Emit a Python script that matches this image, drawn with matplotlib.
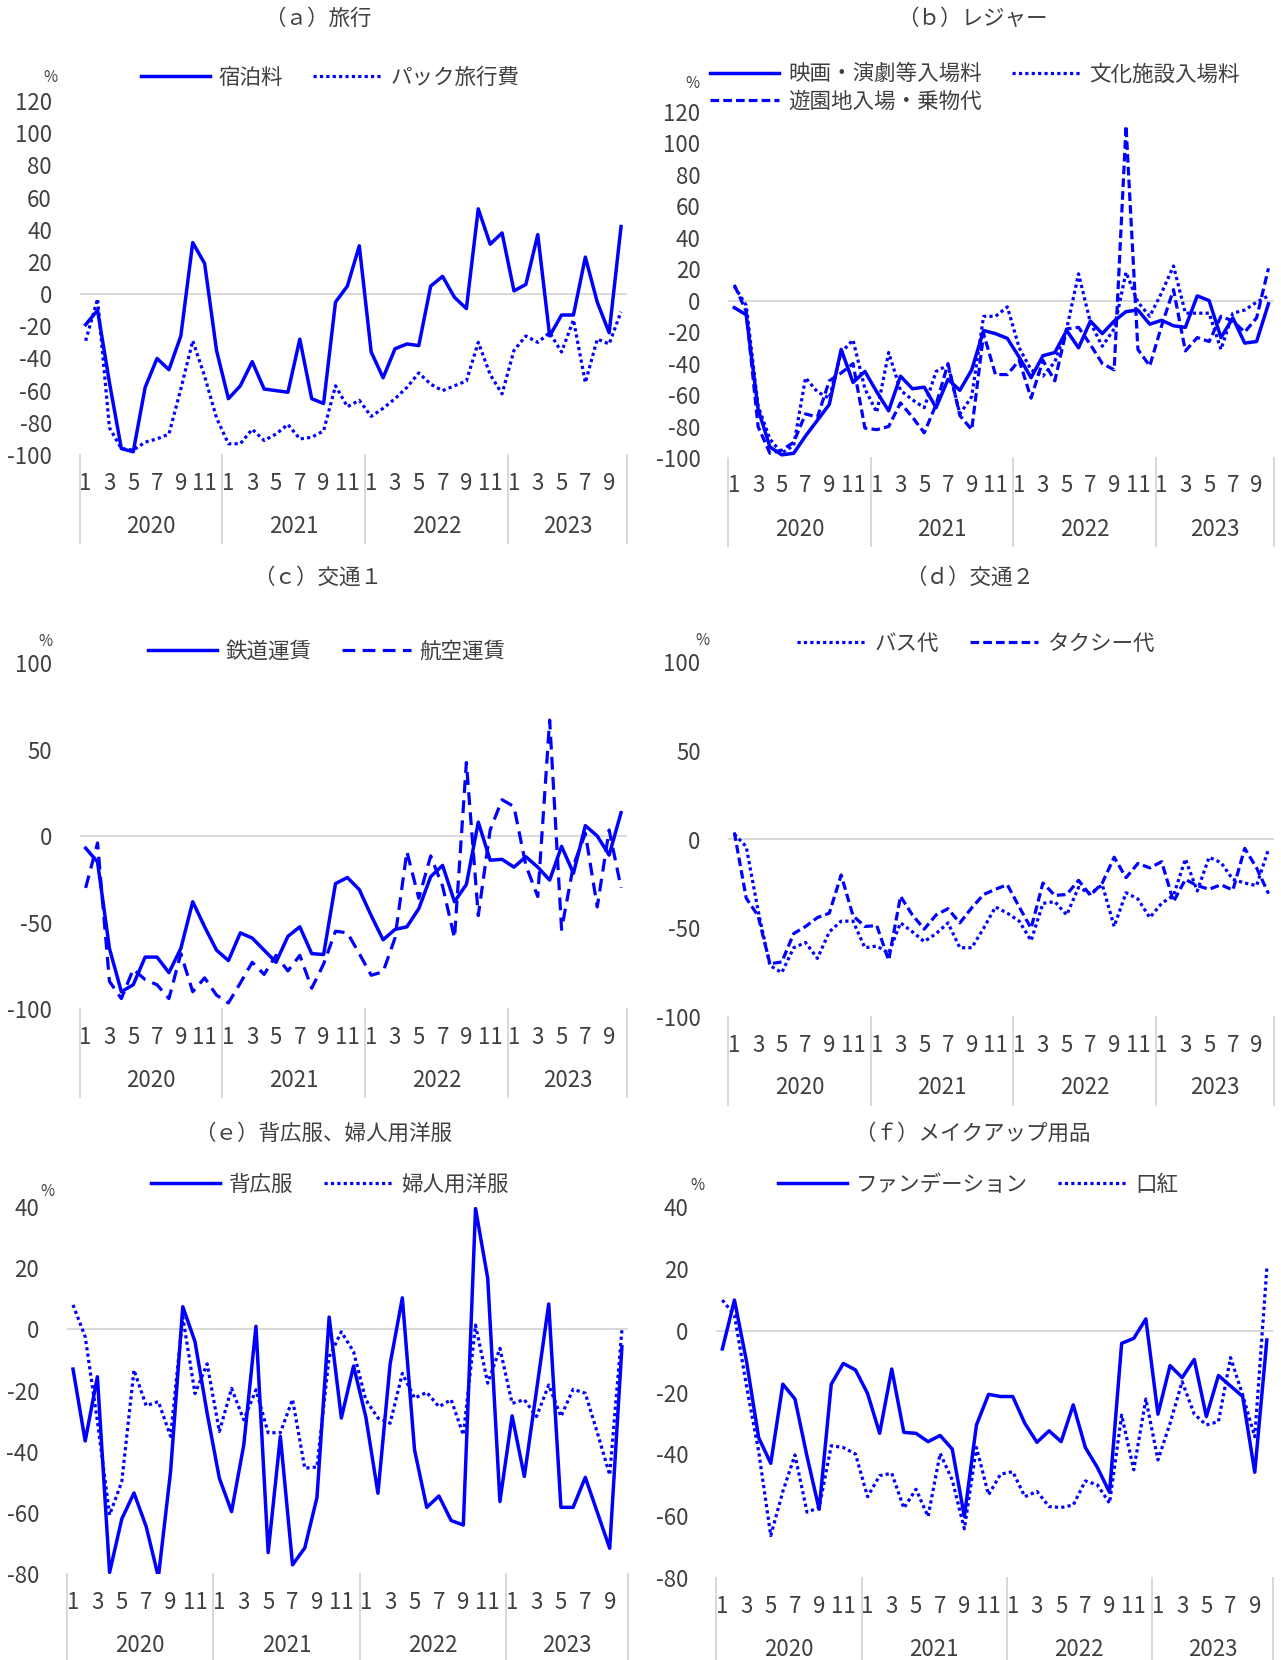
import matplotlib
matplotlib.use("Agg")
import matplotlib.pyplot as plt

plt.rcParams['font.family'] = ['Noto Sans CJK JP', 'DejaVu Sans']
plt.rcParams['axes.unicode_minus'] = False

W, H = 1281, 1660
BLUE = '#0000FF'
GRID = '#D9D9D9'
TEXT = '#404040'

# 2020年1月～2023年10月（前年同月比, %）
years = ['2020', '2021', '2022', '2023']
months = [m for _ in years for m in range(1, 13)][:46]

# （ａ）旅行
shukuhaku = [-19, -10, -55, -96, -98, -58, -40, -47, -26, 32, 19, -35, -65, -57, -42, -59, -60, -61, -28, -65, -68, -5,
             5, 30, -36, -52, -34, -31, -32, 5, 11, -2, -9, 53, 31, 38, 2, 6, 37, -26, -13, -13, 23, -5, -24, 42]
pack = [-29, -3, -83, -96, -97, -92, -90, -87, -59, -29, -51, -77, -93, -93, -84, -91, -87, -81, -90, -89, -85, -57,
        -70, -66, -76, -71, -65, -58, -49, -56, -60, -57, -54, -30, -50, -62, -35, -26, -30, -24, -36, -16, -55, -28, -31, -11]

# （ｂ）レジャー
eiga = [-4.5, -9, -69, -93, -98, -97, -86, -76, -66, -31, -52, -45, -58, -70, -48, -56, -55, -68, -50, -57, -44, -19,
        -21, -24, -36, -49, -35, -33, -19, -30, -13, -21, -13, -7, -6, -15, -12.5, -16, -17, 3, 0, -23.5, -11, -27, -26, -2]
yuenchi = [10, -7, -80, -97, -95, -90, -72, -74, -51, -46, -40, -81, -82, -80, -65, -74, -84, -66, -40, -73, -82, -21,
           -47, -47, -38, -62, -38, -51, -18, -17, -28, -40, -44, 111, -31, -41.5, -16, 7, -32, -23.5, -26, -10, -13, -20, -11, 20.5]
bunka = [9, -3, -67, -88, -97, -92, -49, -58, -62, -33, -25, -56, -71, -33, -57, -63, -68, -45, -41, -72, -61, -10,
         -10, -4, -30, -44, -48, -39, -18, 17, -14, -29, -18, 18, -1, -10, 5, 22, -8, -8, -8, -31, -8, -6, -1, 3]

# （ｃ）交通１
tetsudo = [-7, -15, -65, -90, -86, -70, -70, -79, -65, -38, -52.5, -66, -72, -56, -59, -66, -73, -58, -52.5, -68, -68.5, -27.5,
           -24, -31, -46, -60, -54, -52.5, -42, -23.5, -17, -38, -28, 8, -14, -13.5, -18, -12, -18, -25.5, -6, -21.5, 6, 0, -11, 13.5]
koku = [-30, -4, -84, -94, -77, -83, -86, -94, -68, -90, -82, -92, -96.5, -85, -73, -80, -69, -78, -69, -88, -74, -55,
        -56, -68, -80.5, -78.5, -59, -9, -36, -11.5, -29, -59, 42.5, -46, 3.5, 21, 17, -17, -35, 67, -54, -17, 1.5, -41, 3.5, -30]

# （ｄ）交通２
bus = [3, -4, -40, -71, -75, -61, -58, -67, -52, -46, -46, -61, -60, -64, -47, -52, -57.5, -53, -47, -61, -61, -50,
       -38, -41.5, -46, -57, -36, -35, -42.5, -27, -30.5, -25.5, -49, -30, -33.5, -44, -36, -31.5, -11, -29, -10, -13, -22.5, -24.5, -26, -5.5]
taxi = [4, -33, -43, -70, -69, -53, -49, -44, -41.5, -20, -43, -49, -48.5, -68, -32, -42.5, -50.5, -42.5, -39, -47, -38.5, -31,
        -28, -25.5, -38, -50, -24.5, -31.5, -31, -23, -31.5, -24.5, -10, -21.5, -13.5, -16, -12.5, -35, -22.5, -26, -28, -25.5, -28.5, -5, -16, -30.5]

# （ｅ）背広服、婦人用洋服
sebiro = [-13, -36.5, -15.5, -79.5, -62, -53.5, -64.5, -81, -46.5, 7.4, -4, -27.5, -48.7, -59.6, -37.8, 1, -73, -35, -77, -71.5, -55, 4,
          -29, -12, -28.5, -53.6, -11.3, 10.3, -39.4, -58.2, -54.5, -62.5, -64, 39.5, 16.7, -56.3, -28.3, -48.1, -20, 8.3, -58.2, -58.2, -48.4, -60, -71.6, -5.7]
fujin = [8, -2.4, -30, -60.7, -49.8, -13.3, -25, -23.6, -35, 4, -21, -11.3, -33.4, -19.3, -29.6, -19.8, -33.8, -33.8, -22.9, -45.4, -45, -9,
         -0.8, -7.3, -23, -29, -30.7, -14.4, -22.5, -20.6, -25.3, -23, -34.5, 1.4, -17.6, -6.2, -24.2, -23, -28.5, -18.2, -28.5, -19.6, -20.9, -34, -47.6, -0.2]

# （ｆ）メイクアップ用品
foundation = [-5.9, 9.9, -10, -34.6, -42.9, -17.3, -22.1, -40.7, -57.8, -17.3, -10.6, -12.7, -20.3, -33.2, -12.4, -32.9, -33.2, -35.9, -33.9, -38.3, -60.1, -30.5,
              -20.6, -21.3, -21.3, -30, -36.1, -32.4, -35.9, -24, -37.8, -44.3, -52.3, -4.1, -2.5, 3.8, -27, -11.3, -15.2, -9.3, -27.8, -14.5, -17.9, -21.3, -45.8, -3]
kuchibeni = [9.9, 5, -18, -39, -66.3, -52, -40.2, -58.7, -57.2, -37.2, -37.8, -39.9, -53.7, -46.9, -46.1, -57.4, -51.3, -60.1, -39.7, -48.3, -64.1, -37.8,
             -53.1, -46.4, -45.6, -53.7, -52, -56.9, -57.2, -56.4, -48.6, -49.9, -55.8, -27.3, -45, -22.1, -41.8, -30, -16.5, -27, -30.5, -29.4, -8.7, -20.8, -34.3, 20.2]

SOLID = '-'
DOT = (0, (1, 1))
DASH_S = (0, (2.7, 1.3))
DASH_L = (0, (4, 2.3))

fig = plt.figure(figsize=(W / 100, H / 100), dpi=100)


def px_axes(x0, y0, x1, y1):
    return fig.add_axes([x0 / W, 1 - y1 / H, (x1 - x0) / W, (y1 - y0) / H])


def draw_panel(box, ylim, yticks, series, title, title_xy, pct_xy, leg_xy, ncol=2, sep_px=88):
    ax = px_axes(*box)
    h_px = box[3] - box[1]
    x = list(range(len(months)))
    ax.axhline(0, color=GRID, lw=1.4, zorder=1)
    handles, labels = [], []
    for values, style, label in series:
        lw = 2.5 if style == SOLID else 2.3
        ln, = ax.plot(x, values, color=BLUE, lw=lw, linestyle=style, zorder=3)
        handles.append(ln)
        labels.append(label)
    ax.set_xlim(-0.5, len(months) - 0.5)
    ax.set_ylim(*ylim)
    ax.set_yticks(yticks)
    ax.set_xticks([])
    ax.tick_params(axis='y', length=0, pad=20, labelsize=16, labelcolor=TEXT)
    for s in ax.spines.values():
        s.set_visible(False)

    # 月・年の2段ラベルと年の区切り線
    tr = ax.get_xaxis_transform()
    for i, m in enumerate(months):
        if m % 2 == 1:
            ax.text(i, -28 / h_px, str(m), transform=tr, ha='center', va='center',
                    fontsize=16, color=TEXT)
    for k, yr in enumerate(years):
        start = k * 12 - 0.5
        end = min(start + 12, len(months) - 0.5)
        ax.text((start + end) / 2, -71 / h_px, yr, transform=tr, ha='center', va='center',
                fontsize=16, color=TEXT)
        ax.plot([start, start], [0, -sep_px / h_px], transform=tr, color=GRID, lw=1.4, clip_on=False)
    xe = len(months) - 0.5
    ax.plot([xe, xe], [0, -sep_px / h_px], transform=tr, color=GRID, lw=1.4, clip_on=False)

    fig.text(title_xy[0] / W, 1 - title_xy[1] / H, title, ha='center', va='center',
             fontsize=15.5, color=TEXT)
    fig.text(pct_xy[0] / W, 1 - pct_xy[1] / H, '%', ha='center', va='center',
             fontsize=11, color=TEXT)
    ax.legend(handles, labels, loc='center', bbox_to_anchor=(leg_xy[0] / W, 1 - leg_xy[1] / H),
              bbox_transform=fig.transFigure, ncol=ncol, frameon=False, fontsize=15.5,
              handlelength=3.2, handletextpad=0.4, columnspacing=1.4, labelspacing=0.25,
              labelcolor=TEXT, borderpad=0)
    return ax


draw_panel((79.7, 101, 627, 455), (-100, 120), range(-100, 121, 20),
           [(shukuhaku, SOLID, '宿泊料'), (pack, DOT, 'パック旅行費')],
           '（ａ）旅行', (318, 19), (50, 78), (330, 78))

draw_panel((728.4, 111.7, 1274.4, 458), (-100, 120), range(-100, 121, 20),
           [(eiga, SOLID, '映画・演劇等入場料'), (yuenchi, DASH_S, '遊園地入場・乗物代'),
            (bunka, DOT, '文化施設入場料')],
           '（ｂ）レジャー', (972, 19), (692, 83), (975, 88))

draw_panel((79.7, 663, 627, 1009), (-100, 100), [-100, -50, 0, 50, 100],
           [(tetsudo, SOLID, '鉄道運賃'), (koku, DASH_L, '航空運賃')],
           '（ｃ）交通１', (318, 578), (45, 641), (327, 652))

draw_panel((728.4, 662, 1274.4, 1017), (-100, 100), [-100, -50, 0, 50, 100],
           [(bus, DOT, 'バス代'), (taxi, DASH_S, 'タクシー代')],
           '（ｄ）交通２', (970, 578), (702, 640), (976, 644))

draw_panel((66.9, 1207, 628, 1574), (-80, 40), range(-80, 41, 20),
           [(sebiro, SOLID, '背広服'), (fujin, DOT, '婦人用洋服')],
           '（ｅ）背広服、婦人用洋服', (323, 1134), (47, 1191), (330, 1185), sep_px=86)

draw_panel((716.3, 1207, 1272.9, 1578), (-80, 40), range(-80, 41, 20),
           [(foundation, SOLID, 'ファンデーション'), (kuchibeni, DOT, '口紅')],
           '（ｆ）メイクアップ用品', (972, 1134), (697, 1186), (978, 1185), sep_px=82)

fig.savefig('out.png', dpi=100, facecolor='white')
